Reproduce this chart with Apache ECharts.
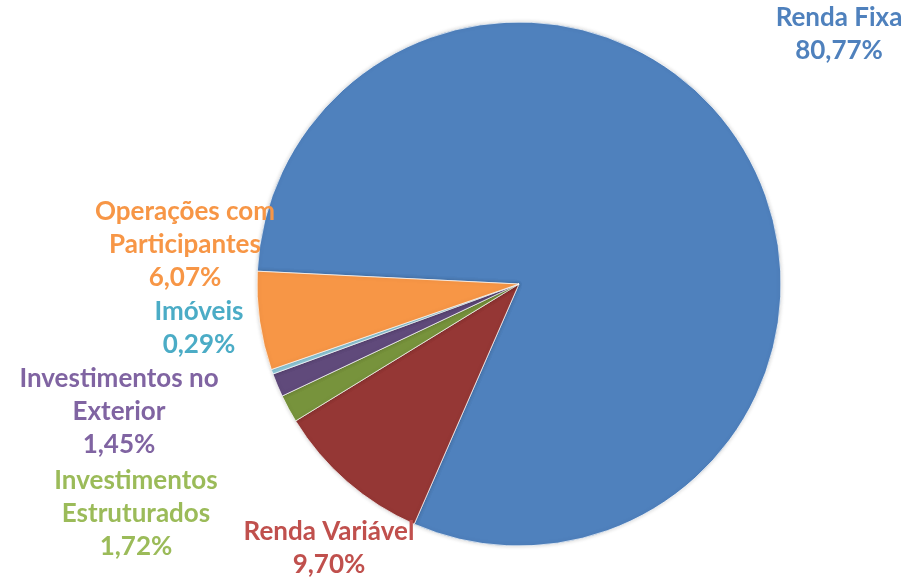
<!DOCTYPE html>
<html>
<head>
<meta charset="utf-8">
<script src="https://cdn.jsdelivr.net/npm/echarts@6/dist/echarts.min.js"></script>
<style>
  html, body { margin: 0; padding: 0; background: #fff; }
  #chart { width: 924px; height: 580px; }
</style>
</head>
<body>
<div id="chart"></div>
<script>
// data, in the order the slices run clockwise
const categories = [
  "Renda Fixa",
  "Renda Variável",
  "Investimentos Estruturados",
  "Investimentos no Exterior",
  "Imóveis",
  "Operações com Participantes"
];
const values = [80.77, 9.7, 1.72, 1.45, 0.29, 6.07];
const labelNames = [
  "Renda Fixa",
  "Renda Variável",
  "Investimentos\nEstruturados",
  "Investimentos no\nExterior",
  "Imóveis",
  "Operações com\nParticipantes"
];

const sliceColors = ["#4f81bd", "#953735", "#77933c", "#604a7b", "#93cddd", "#f79646"];
const labelColors = ["#4f81bd", "#c0504d", "#9bbb59", "#8064a2", "#4bacc6", "#f79646"];
// label block centres (px)
const labelPos = [
  [839, 34],
  [329, 548],
  [136, 514],
  [119, 412],
  [199, 328],
  [185, 245]
];

const data = categories.map((name, i) => ({
  name: name,
  value: values[i],
  itemStyle: { color: sliceColors[i] },
  label: { color: labelColors[i] }
}));

const myChart = echarts.init(document.getElementById("chart"));
myChart.setOption({
  animation: false,
  series: [
    {
      type: "pie",
      center: [519, 284],
      radius: [0, 262],
      startAngle: 177.2,
      clockwise: true,
      avoidLabelOverlap: false,
      itemStyle: {
        borderColor: "rgba(255,255,255,0.7)",
        borderWidth: 1,
        shadowBlur: 4,
        shadowColor: "rgba(0,0,0,0.18)"
      },
      label: {
        show: true,
        fontFamily: "Lato",
        fontWeight: "bold",
        fontSize: 26,
        lineHeight: 33,
        align: "center",
        formatter: p => labelNames[p.dataIndex] + "\n" + p.value.toFixed(2).replace(".", ",") + "%"
      },
      labelLine: { show: false },
      labelLayout: p => ({
        x: labelPos[p.dataIndex][0],
        y: labelPos[p.dataIndex][1],
        align: "center",
        verticalAlign: "middle"
      }),
      data: data
    }
  ]
});
</script>
</body>
</html>
